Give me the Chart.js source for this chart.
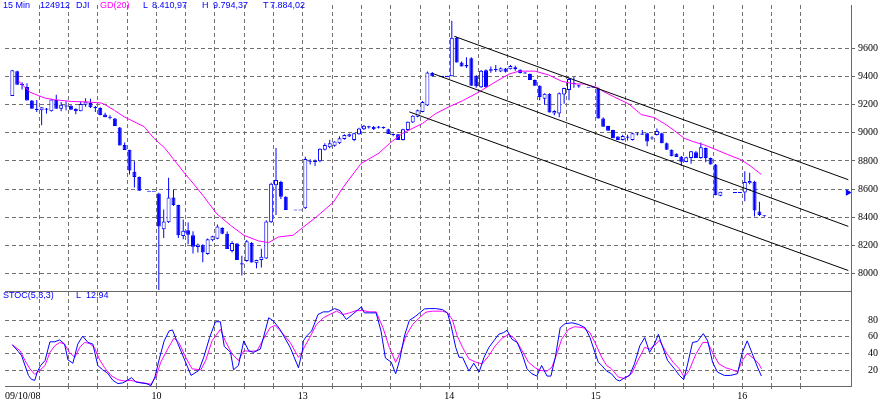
<!DOCTYPE html>
<html>
<head>
<meta charset="utf-8">
<script src="https://cdn.jsdelivr.net/npm/chart.js@4.4.1/dist/chart.umd.min.js"></script>
<style>
  html, body { margin: 0; padding: 0; background: #fff; }
  #wrap { position: relative; width: 882px; height: 404px; overflow: hidden; }
  #chart { position: absolute; left: 0; top: 0; }
  .lbl { position: absolute; font: 9px 'Liberation Sans', Arial, sans-serif; line-height: 9px; white-space: nowrap; color: #0000ff; }
  .mag { color: #ff00ff; }
</style>
</head>
<body>
<div id="wrap">
  <canvas id="chart" width="882" height="404"></canvas>
  <span class="lbl" style="left:3px;top:1px">15 Min</span>
  <span class="lbl" style="left:40px;top:1px">124912</span>
  <span class="lbl" style="left:76px;top:1px">DJI</span>
  <span class="lbl mag" style="left:100px;top:1px">GD(20)</span>
  <span class="lbl" style="left:143px;top:1px">L</span>
  <span class="lbl" style="left:152px;top:1px">8.410,97</span>
  <span class="lbl" style="left:202px;top:1px">H</span>
  <span class="lbl" style="left:213px;top:1px">9.794,37</span>
  <span class="lbl" style="left:263px;top:1px">T</span>
  <span class="lbl" style="left:270px;top:1px">7.884,02</span>
  <span class="lbl" style="left:3px;top:291px">STOC(5,3,3)</span>
  <span class="lbl" style="left:76px;top:291px">L</span>
  <span class="lbl" style="left:86px;top:291px">12,94</span>
</div>
<script>
/* ---- Data ---- */
// one slot = one 15 min bar, 30 slots per trading day
const DAY_LEN = 30;
const dayLabels = ['09/10/08', '10', '13', '14', '15', '16'];
const priceTicks = [8000, 8200, 8400, 8600, 8800, 9000, 9200, 9400, 9600];
const stochTicks = [20, 40, 60, 80];

const opens = [
  9260, 9437, 9345, 9325, 9229, 9166, 9159, 9170, 9152, 9232, 9171, 9190, 9192, 9171, 9152, 9199, 9211, 9178, 9176, 9129, 9110, 9101, 9038, 8914, 8879, 8723, 8686, null, 8585, 8585,
  8569, 8315, 8366, 8541, 8487, 8268, 8308, 8273, 8189, 8203, 8140, 8238, 8249, 8324, 8284, 8161, 8214, 8070, 8091, 8219, 8074, 8098, 8109, 8366, 8627, 8651, 8546, null, 8452, 8452,
  8464, 8798, 8795, 8798, 8879, 8898, 8907, 8926, 8956, 8973, 8949, 8989, 9024, 9038, 9043, 9040, 9040, 9024, 8990, 8989, 8949, 9019, 9073, 9113, 9148, 9194, 9423, null, 9400, 9400,
  9400, 9673, 9498, 9470, 9528, 9400, 9323, 9444, 9440, 9445, 9435, 9455, 9451, 9465, 9447, 9425, 9416, 9374, 9334, 9241, 9276, 9136, 9136, 9271, 9304, 9350, 9335, null, 9323, 9323,
  9311, 9101, 9047, 9019, 8973, 8949, 8970, 8949, 8990, 8992, 8996, 8960, 8984, 8996, 8926, 8879, 8851, 8830, 8793, 8821, 8861, 8821, 8891, 8821, 8774, 8553, null, null, 8576, 8576,
  8576, 8641, 8653, 8441, 8411
];
const highs = [
  9444, 9440, 9358, 9351, 9232, 9232, 9183, 9176, 9236, 9269, 9218, 9222, 9195, 9173, 9222, 9245, 9241, 9190, 9180, 9141, 9124, 9105, 9040, 8930, 8880, 8798, 8690, null, 8585, 8585,
  8575, 8455, 8681, 8595, 8490, 8385, 8364, 8301, 8215, 8210, 8250, 8270, 8350, 8330, 8300, 8230, 8218, 8128, 8240, 8225, 8100, 8178, 8380, 8645, 8891, 8660, 8550, null, 8452, 8452,
  8830, 8812, 8810, 8890, 8925, 8950, 8940, 8975, 8990, 8995, 9000, 9035, 9055, 9050, 9047, 9047, 9045, 9028, 8995, 8992, 9028, 9080, 9125, 9165, 9225, 9435, 9430, null, 9400, 9400,
  9794, 9680, 9505, 9535, 9535, 9410, 9445, 9450, 9470, 9480, 9462, 9460, 9480, 9475, 9450, 9430, 9420, 9378, 9336, 9280, 9280, 9160, 9285, 9320, 9390, 9396, 9340, null, 9323, 9323,
  9315, 9110, 9050, 9022, 8976, 8985, 8985, 9000, 9003, 9020, 9000, 8975, 9030, 9000, 8930, 8882, 8855, 8835, 8830, 8870, 8870, 8931, 8895, 8825, 8778, 8581, null, null, 8576, 8576,
  8727, 8716, 8660, 8511, 8415
];
const lows = [
  9260, 9341, 9306, 9229, 9171, 9148, 9054, 9136, 9150, 9171, 9152, 9159, 9164, 9131, 9152, 9185, 9176, 9148, 9124, 9110, 9096, 9047, 8910, 8877, 8704, 8611, 8588, null, 8585, 8585,
  7884, 8254, 8360, 8480, 8254, 8245, 8209, 8144, 8150, 8081, 8135, 8230, 8245, 8280, 8175, 8150, 8098, 7988, 8085, 8079, 8039, 8045, 8105, 8360, 8417, 8530, 8452, null, 8452, 8452,
  8460, 8775, 8765, 8790, 8875, 8890, 8900, 8920, 8950, 8970, 8940, 8985, 9020, 9030, 9020, 9030, 9028, 8991, 8975, 8949, 8945, 9015, 9070, 9110, 9145, 9190, 9400, null, 9400, 9400,
  9400, 9498, 9470, 9460, 9334, 9320, 9318, 9318, 9425, 9430, 9430, 9428, 9448, 9440, 9420, 9418, 9374, 9334, 9230, 9200, 9143, 9125, 9110, 9205, 9230, 9320, 9320, null, 9323, 9323,
  9101, 9043, 9015, 8961, 8949, 8945, 8945, 8945, 8980, 8985, 8905, 8950, 8980, 8926, 8879, 8833, 8828, 8765, 8790, 8780, 8821, 8815, 8790, 8774, 8557, 8550, null, null, 8576, 8576,
  8515, 8635, 8406, 8410, 8405
];
const closes = [
  9444, 9341, 9340, 9229, 9171, 9166, 9180, 9166, 9236, 9171, 9199, 9190, 9164, 9152, 9204, 9222, 9180, 9178, 9124, 9110, 9110, 9047, 8910, 8877, 8732, 8686, 8588, null, 8585, 8585,
  8336, 8371, 8541, 8487, 8273, 8305, 8277, 8191, 8207, 8151, 8245, 8266, 8336, 8284, 8175, 8219, 8098, 8070, 8231, 8079, 8098, 8121, 8371, 8639, 8665, 8546, 8452, null, 8452, 8452,
  8814, 8798, 8798, 8886, 8914, 8926, 8938, 8961, 8984, 8989, 8996, 9031, 9050, 9045, 9024, 9040, 9032, 8991, 8985, 8949, 9024, 9078, 9120, 9159, 9218, 9428, 9400, null, 9400, 9400,
  9673, 9498, 9470, 9480, 9334, 9330, 9439, 9323, 9450, 9450, 9458, 9432, 9474, 9450, 9424, 9422, 9374, 9334, 9253, 9276, 9143, 9155, 9281, 9318, 9381, 9348, 9330, null, 9323, 9323,
  9101, 9043, 9015, 8961, 8949, 8977, 8968, 8996, 8992, 8988, 8938, 8965, 9012, 8926, 8879, 8833, 8828, 8795, 8826, 8868, 8821, 8898, 8821, 8774, 8557, 8581, null, null, 8576, 8576,
  8651, 8658, 8448, 8417, 8411
];

// GD(20) moving average (x in slots)
const maX = [1.7, 4.1, 5.8, 7.2, 9.2, 12.6, 16.0, 18.7, 19.4, 21.4, 23.4, 27.5, 29.5, 30.6, 31.6, 33.6, 35.7, 37.7, 39.7, 42.4, 45.2, 47.9, 50.9, 53.0, 55.0, 58.0, 60.1, 62.7, 66.2, 68.2, 71.9, 75.6, 77.8, 80.4, 84.5, 87.2, 90.0, 92.7, 96.1, 99.4, 102.2, 104.3, 107.5, 110.4, 113.0, 115.7, 117.7, 120.5, 121.2, 123.8, 126.7, 129.3, 131.9, 134.0, 136.0, 138.1, 140.1, 142.1, 144.2, 147.0, 149.7, 151.7, 153.9];
const maY = [9369, 9288, 9264, 9246, 9234, 9222, 9218, 9211, 9201, 9159, 9113, 9043, 8961, 8926, 8896, 8809, 8716, 8634, 8548, 8424, 8343, 8273, 8233, 8221, 8261, 8273, 8331, 8401, 8506, 8611, 8781, 8856, 8926, 8996, 9066, 9136, 9185, 9227, 9290, 9360, 9416, 9437, 9437, 9409, 9365, 9346, 9346, 9318, 9299, 9253, 9206, 9129, 9108, 9066, 9017, 8961, 8935, 8915, 8886, 8845, 8809, 8763, 8704];

// channel lines: [start, end]
const channelX = [[91.0, 171.7], [86.9, 171.7], [81.8, 171.7]];
const channelY = [[9684, 8667], [9416, 8336], [9148, 8023]];

// last price marker at the right edge
const markerX = 171.6;
const markerY = 8576;

// STOC(5,3,3) %K
const kX = [0.5, 1.7, 2.4, 3.8, 4.4, 5.1, 5.6, 6.3, 7.2, 8.2, 9.2, 10.2, 11.2, 11.9, 12.9, 13.9, 14.9, 16.0, 17.0, 18.0, 19.0, 20.0, 21.1, 22.1, 23.1, 24.1, 24.9, 25.8, 26.8, 27.9, 28.9, 29.7, 30.6, 31.6, 32.6, 33.3, 34.3, 35.7, 37.1, 38.7, 39.7, 40.9, 42.1, 43.1, 43.9, 45.2, 45.8, 46.8, 47.9, 48.9, 49.9, 51.3, 53.0, 54.0, 55.3, 57.4, 59.1, 59.9,
  60.1, 60.8, 61.8, 63.1, 64.2, 65.2, 66.5, 67.6, 68.9, 70.3, 72.0, 72.6, 73.7, 75.0, 76.0, 76.9, 78.1, 79.0, 79.8, 80.8, 81.8, 83.1, 84.9, 85.9, 87.2, 88.6, 89.6, 90.3, 91.3, 92.0, 92.7, 94.0, 95.0, 96.1, 97.1, 98.1, 99.1, 100.1, 101.1, 101.8, 102.8, 103.9, 104.9, 105.9, 106.9, 107.9, 108.9, 110.0, 110.8, 111.7, 112.7, 113.7, 115.1, 116.4, 117.8, 118.8, 119.8, 120.5,
  121.2, 122.2, 123.2, 124.2, 124.9, 125.9, 126.9, 127.9, 129.0, 130.0, 131.0, 132.0, 132.8, 133.7, 134.7, 136.1, 137.1, 138.0, 138.8, 139.8, 140.8, 142.0, 142.9, 143.9, 144.9, 146.3, 147.6, 149.0, 150.0, 151.0, 152.0, 153.1, 153.9];
const kY = [50.4, 42.5, 37.4, 13.7, 9, 7.8, 17.7, 25.6, 31.5, 54, 54, 56.3, 51.2, 32.3, 28.3, 51.2, 60.7, 53.2, 51.2, 25.6, 20.4, 16.5, 7.8, 3.9, 4.7, 7.8, 11, 5.8, 4.7, 3.9, 1.5, 11.8, 33.5, 55.1, 67, 68.2, 53.2, 33.5, 13.7, 19.6, 35.4, 59.1, 78, 78, 48.4, 41.3, 20.4, 25.6, 55.1, 43.3, 41.3, 45.3, 82.8, 78.8, 69, 47.3, 22.8, 43.3,
  55.1, 61.1, 67, 86.7, 89.9, 89.9, 93.8, 91.4, 80.8, 87.5, 95.8, 88.7, 88.7, 88.7, 67, 34.6, 29.5, 15.7, 31.5, 61.1, 79.6, 84.7, 93.4, 93.8, 93.8, 92.6, 88.7, 74.9, 47.3, 35.4, 35.4, 18.9, 28.3, 17.7, 35.4, 47.3, 55.1, 63, 65, 67.8, 57.1, 53.2, 39.4, 21.6, 15.7, 12.9, 25.6, 12.9, 12.9, 35.4, 70.9, 75.7, 76.8, 74.9, 70.9, 59.1, 41.3, 29.5,
  25.6, 18.9, 15.7, 8.6, 7, 11, 13.7, 27.5, 49.2, 59.1, 41.3, 51.2, 63, 47.3, 31.5, 21.6, 13.7, 8.6, 27.5, 53.2, 54.4, 63.8, 55.1, 29.5, 17.7, 13.7, 13.7, 15.7, 41.3, 55.1, 40.2, 23.6, 12.94];

// STOC(5,3,3) %D
const dX = [0.5, 2.1, 3.1, 4.1, 5.1, 6.1, 7.2, 8.2, 9.2, 10.2, 11.2, 12.2, 13.3, 14.3, 15.3, 16.3, 17.3, 18.3, 19.4, 20.7, 22.1, 23.4, 24.8, 26.1, 27.5, 28.9, 29.9, 30.9, 32.3, 33.6, 34.6, 36.0, 37.3, 39.1, 40.1, 41.4, 43.1, 44.1, 45.5, 46.8, 47.9, 49.2, 50.6, 51.9, 53.3, 54.3, 55.7, 57.4, 59.1, 59.9,
  60.1, 61.4, 62.8, 64.2, 65.5, 66.9, 68.2, 69.6, 70.9, 72.3, 73.7, 75.0, 76.4, 77.7, 79.0, 80.1, 81.1, 82.5, 83.8, 85.2, 86.5, 88.6, 89.6, 90.6, 91.6, 92.7, 94.0, 95.4, 96.7, 98.1, 99.4, 100.8, 102.2, 103.5, 104.9, 106.2, 107.6, 108.6, 110.0, 111.0, 112.0, 113.0, 114.4, 115.7, 117.4, 118.8, 119.8,
  121.2, 122.2, 123.2, 124.6, 125.9, 127.3, 128.6, 130.0, 131.0, 132.0, 133.0, 134.4, 135.8, 137.1, 138.1, 139.1, 140.5, 141.9, 142.9, 143.9, 145.2, 146.6, 148.0, 149.0, 150.0, 151.0, 152.4, 153.4, 153.9];
const dY = [50.4, 43.3, 31.5, 21.6, 14.9, 19.6, 25.6, 41.3, 49.2, 53.2, 51.2, 41.3, 35.4, 47.3, 53.2, 52, 47.3, 33.5, 22.8, 13.7, 8.6, 7, 7.8, 5.8, 4.7, 3.1, 11.8, 29.5, 45.3, 58.3, 53.2, 35.4, 21.6, 20.4, 31.5, 55.1, 69, 55.1, 39.4, 31.5, 43.3, 42.5, 43.3, 57.1, 71, 73.7, 65, 53.2, 35.4, 41.3,
  45.3, 59.1, 74.9, 82.8, 86.7, 90.7, 86.7, 88.7, 91.4, 91.4, 89.9, 89.9, 70.9, 47.3, 29.5, 43.3, 61.1, 74.9, 82.8, 89.5, 90.7, 90.7, 88.7, 80.8, 61.1, 47.3, 33.5, 29.5, 27.5, 37.4, 49.2, 58.3, 63, 57.1, 43.3, 29.5, 22.8, 19.6, 18.9, 23.6, 39.4, 57.1, 69, 72.1, 70.9, 65, 53.2,
  35.4, 25.6, 21.6, 11.8, 9.8, 15.7, 31.5, 47.3, 45.3, 49.2, 55.9, 41.3, 29.5, 21.6, 11.8, 19.6, 39.4, 53.2, 53.2, 41.3, 27.5, 22.8, 20.4, 17.7, 31.5, 40.2, 33.5, 27.5, 21.6];

/* ---- Styling ---- */
const BLUE = '#0000ff';
const MAGENTA = '#ff00ff';
const GRID = '#707070';
const AXIS = '#686868';
const DASH = [4, 3];
const GRID_STEP = 6;          // a grid line every 6 bars (5 per day)
const X_MIN = -1, X_MAX = 172.25;
const STOCH_TOP = 114.6;

Chart.defaults.font.family = "'Liberation Serif', 'Times New Roman', serif";
Chart.defaults.font.size = 10;
Chart.defaults.color = '#000';

// labels must not push the plot area in: it fills the canvas up to the axes
function noPadding(s) {
  s.paddingTop = 0; s.paddingBottom = 0;
  s.paddingLeft = 0; s.paddingRight = 0;
}

/* ---- Build datasets ---- */
const barSlots = [];
opens.forEach((o, i) => { if (o !== null) barSlots.push(i); });

const MIN_BODY = 8; // keeps flat bars visible as a thin line
const bodyData = barSlots.map(i => {
  let lo = Math.min(opens[i], closes[i]);
  let hi = Math.max(opens[i], closes[i]);
  if (hi - lo < MIN_BODY) {
    const m = (hi + lo) / 2;
    lo = m - MIN_BODY / 2;
    hi = m + MIN_BODY / 2;
  }
  return { x: i + 0.5, y: [lo, hi] };
});
const bodyFill = barSlots.map(i => closes[i] > opens[i] ? '#ffffff' : BLUE);
const wickData = barSlots.map(i => ({ x: i + 0.5, y: [lows[i], highs[i]] }));

const pairs = (xs, ys) => xs.map((x, i) => ({ x, y: ys[i] }));

const channelSets = channelX.map((xs, n) => ({
  data: pairs(xs, channelY[n]),
  yAxisID: 'y',
  borderColor: '#000',
  borderWidth: 1,
  pointRadius: 0,
}));

// first label sits at the left edge (the first day starts just after it)
const gridSlots = [X_MIN];
for (let s = GRID_STEP; s <= 162; s += GRID_STEP) gridSlots.push(s);
const hiddenLine = c => c.tick && c.tick.value === X_MIN ? 'rgba(0,0,0,0)' : GRID;

new Chart(document.getElementById('chart'), {
  type: 'line',
  data: {
    datasets: [
      { data: [{ x: markerX, y: markerY }], yAxisID: 'y', showLine: false,
        pointStyle: 'triangle', rotation: 90, pointRadius: 3,
        backgroundColor: BLUE, borderColor: BLUE, borderWidth: 1 },
      { data: pairs(kX, kY), yAxisID: 'y2', borderColor: BLUE, borderWidth: 1, pointRadius: 0 },
      { data: pairs(dX, dY), yAxisID: 'y2', borderColor: MAGENTA, borderWidth: 1, pointRadius: 0 },
      ...channelSets,
      { data: pairs(maX, maY), yAxisID: 'y', borderColor: MAGENTA, borderWidth: 1, pointRadius: 0 },
      { type: 'bar', data: bodyData, yAxisID: 'y', grouped: false,
        barThickness: 4, maxBarThickness: 4.3, inflateAmount: 0,
        backgroundColor: bodyFill, borderColor: BLUE, borderWidth: 1, borderSkipped: false },
      { type: 'bar', data: wickData, yAxisID: 'y', grouped: false,
        barThickness: 1, maxBarThickness: 1.2, inflateAmount: 0,
        backgroundColor: BLUE, borderWidth: 0 },
    ]
  },
  options: {
    responsive: false,
    animation: false,
    layout: { padding: 0 },
    plugins: { legend: { display: false }, tooltip: { enabled: false } },
    elements: { line: { tension: 0 } },
    scales: {
      x: {
        type: 'linear', min: X_MIN, max: X_MAX, offset: false,
        afterFit: s => { s.height = 18; noPadding(s); },
        afterBuildTicks: s => { s.ticks = gridSlots.map(v => ({ value: v })); },
        ticks: {
          autoSkip: false, maxRotation: 0, align: 'inner', padding: 1,
          callback: v => v === X_MIN ? dayLabels[0] : (v % DAY_LEN === 0 ? dayLabels[v / DAY_LEN] : '')
        },
        grid: {
          offset: false, color: hiddenLine, tickColor: hiddenLine,
          tickLength: 3, tickBorderDash: []
        },
        border: { display: true, color: AXIS, dash: DASH }
      },
      y: {
        type: 'linear', position: 'right', stack: 'panes', stackWeight: 290,
        min: 7876, max: 9906,
        afterFit: s => { s.width = 31; noPadding(s); },
        afterBuildTicks: s => { s.ticks = priceTicks.map(v => ({ value: v })); },
        ticks: { autoSkip: false, padding: 3, callback: v => String(v) },
        grid: { color: GRID, tickColor: AXIS, tickLength: 4, tickBorderDash: [] },
        border: { display: true, color: AXIS, dash: DASH }
      },
      y2: {
        type: 'linear', position: 'right', stack: 'panes', stackWeight: 96,
        min: 1, max: STOCH_TOP,
        afterFit: s => { s.width = 31; noPadding(s); },
        afterBuildTicks: s => { s.ticks = stochTicks.concat([STOCH_TOP]).map(v => ({ value: v })); },
        ticks: { autoSkip: false, padding: 17, callback: v => stochTicks.includes(v) ? String(v) : '' },
        grid: {
          drawTicks: false,
          color: c => c.tick && c.tick.value === STOCH_TOP ? AXIS : GRID
        },
        border: {
          display: true, color: AXIS,
          dash: c => c.tick && c.tick.value === STOCH_TOP ? [] : DASH
        }
      }
    }
  }
});
</script>
</body>
</html>
